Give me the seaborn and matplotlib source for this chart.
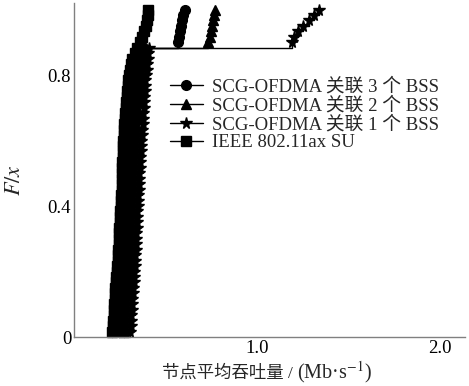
import matplotlib
matplotlib.use("Agg")
import matplotlib.pyplot as plt
import seaborn as sns
import pandas as pd

# Per-node average throughput samples (Mb/s) for each scheme
scg_3bss = [
    0.245, 0.247, 0.249, 0.251, 0.253, 0.255, 0.257, 0.259, 0.261, 0.263,
    0.265, 0.267, 0.269, 0.271, 0.273, 0.275, 0.276, 0.278, 0.280, 0.281,
    0.283, 0.285, 0.286, 0.288, 0.289, 0.291, 0.292, 0.294, 0.295, 0.297,
    0.298, 0.300, 0.301, 0.303, 0.305, 0.306, 0.308, 0.310, 0.312, 0.314,
    0.316, 0.318, 0.321, 0.324, 0.327, 0.330, 0.334, 0.338, 0.343, 0.348,
    0.355, 0.363, 0.375,
    0.570, 0.575, 0.580, 0.585, 0.592, 0.598, 0.605,
]
scg_2bss = [
    0.275, 0.277, 0.279, 0.281, 0.283, 0.285, 0.287, 0.289, 0.291, 0.293,
    0.295, 0.297, 0.299, 0.301, 0.302, 0.304, 0.306, 0.307, 0.309, 0.310,
    0.312, 0.313, 0.315, 0.316, 0.318, 0.319, 0.321, 0.322, 0.324, 0.325,
    0.327, 0.328, 0.330, 0.332, 0.333, 0.335, 0.337, 0.339, 0.341, 0.343,
    0.345, 0.347, 0.349, 0.352, 0.355, 0.358, 0.361, 0.365, 0.369, 0.374,
    0.380, 0.387, 0.395,
    0.735, 0.742, 0.748, 0.754, 0.760, 0.765, 0.770,
]
scg_1bss = [
    0.308, 0.310, 0.312, 0.314, 0.316, 0.318, 0.320, 0.322, 0.324, 0.326,
    0.328, 0.330, 0.332, 0.334, 0.335, 0.337, 0.338, 0.340, 0.341, 0.343,
    0.344, 0.346, 0.347, 0.349, 0.350, 0.352, 0.354, 0.355, 0.357, 0.358,
    0.360, 0.362, 0.363, 0.365, 0.367, 0.369, 0.371, 0.373, 0.375, 0.377,
    0.379, 0.381, 0.383, 0.385, 0.387, 0.389, 0.391, 0.394, 0.397, 0.400,
    0.403, 0.406, 0.410,
    1.195, 1.205, 1.225, 1.255, 1.285, 1.312, 1.340,
]
ieee_su = [
    0.210, 0.212, 0.215, 0.217, 0.219, 0.221, 0.223, 0.224, 0.226, 0.229,
    0.232, 0.235, 0.237, 0.239, 0.240, 0.242, 0.244, 0.245, 0.247, 0.249,
    0.250, 0.252, 0.254, 0.255, 0.257, 0.258, 0.260, 0.261, 0.262, 0.262,
    0.264, 0.265, 0.266, 0.268, 0.269, 0.270, 0.272, 0.273, 0.275, 0.278,
    0.280, 0.283, 0.285, 0.288, 0.290, 0.293, 0.297, 0.300, 0.306, 0.312,
    0.320, 0.332, 0.345, 0.360, 0.372, 0.382, 0.392, 0.400, 0.403, 0.405,
]

series_labels = [
    "SCG-OFDMA 关联 3 个 BSS",
    "SCG-OFDMA 关联 2 个 BSS",
    "SCG-OFDMA 关联 1 个 BSS",
    "IEEE 802.11ax SU",
]
series_data = [scg_3bss, scg_2bss, scg_1bss, ieee_su]
series_markers = ["o", "^", "*", "s"]
series_msize = [7, 7, 8.5, 6.5]

x_ticks = [1.0, 2.0]
x_ticklabels = ["1.0", "2.0"]
y_ticks = [0, 0.4, 0.8]
y_ticklabels = ["0", "0.4", "0.8"]
xlabel_main = "节点平均吞吐量 /"
xlabel_unit = r"(Mb·s$^{-1}$)"
ylabel = r"$F/x$"

sns.set_style("white")
plt.rcParams["font.family"] = ["Liberation Serif", "Noto Sans CJK SC"]
plt.rcParams["mathtext.fontset"] = "stix"

fig = plt.figure(figsize=(4.69, 3.86), dpi=100)
ax = fig.add_axes([74 / 469, 49 / 386, 391 / 469, 334 / 386])

for data, label, mk, ms in zip(series_data, series_labels, series_markers, series_msize):
    df = pd.DataFrame({"throughput": data})
    sns.ecdfplot(data=df, x="throughput", ax=ax, color="black", linewidth=1,
                 marker=mk, markersize=ms, label=label, clip_on=False)

ax.set_xlim(0, 2.14)
ax.set_ylim(0, 1.02)
ax.set_xticks(x_ticks)
ax.set_xticklabels(x_ticklabels)
ax.set_yticks(y_ticks)
ax.set_yticklabels(y_ticklabels)

for side in ["top", "right"]:
    ax.spines[side].set_visible(False)
for side in ["left", "bottom"]:
    ax.spines[side].set_color("#808080")
    ax.spines[side].set_linewidth(1.0)
    ax.spines[side].set_zorder(5)
ax.tick_params(axis="both", direction="in", length=4, width=1, color="#808080",
               labelsize=13.5, pad=2, labelcolor="black")

# x-axis title: CJK text and the unit (with superscript) set side by side
ax.set_xlabel("")
fig.text(293 / 469, 8 / 386, xlabel_main, ha="right", va="baseline", fontsize=12.5)
fig.text(297 / 469, 8 / 386, xlabel_unit, ha="left", va="baseline", fontsize=14.5)

ax.set_ylabel(ylabel, fontsize=16)
ax.yaxis.set_label_coords(-0.125, 0.47)

ax.legend(loc="upper left", bbox_to_anchor=(0.2455, 0.775), frameon=False,
          fontsize=13.5, handlelength=1.75, handletextpad=0.5, labelspacing=0.05,
          borderpad=0, borderaxespad=0, numpoints=1)

fig.savefig("out.png", dpi=100)
